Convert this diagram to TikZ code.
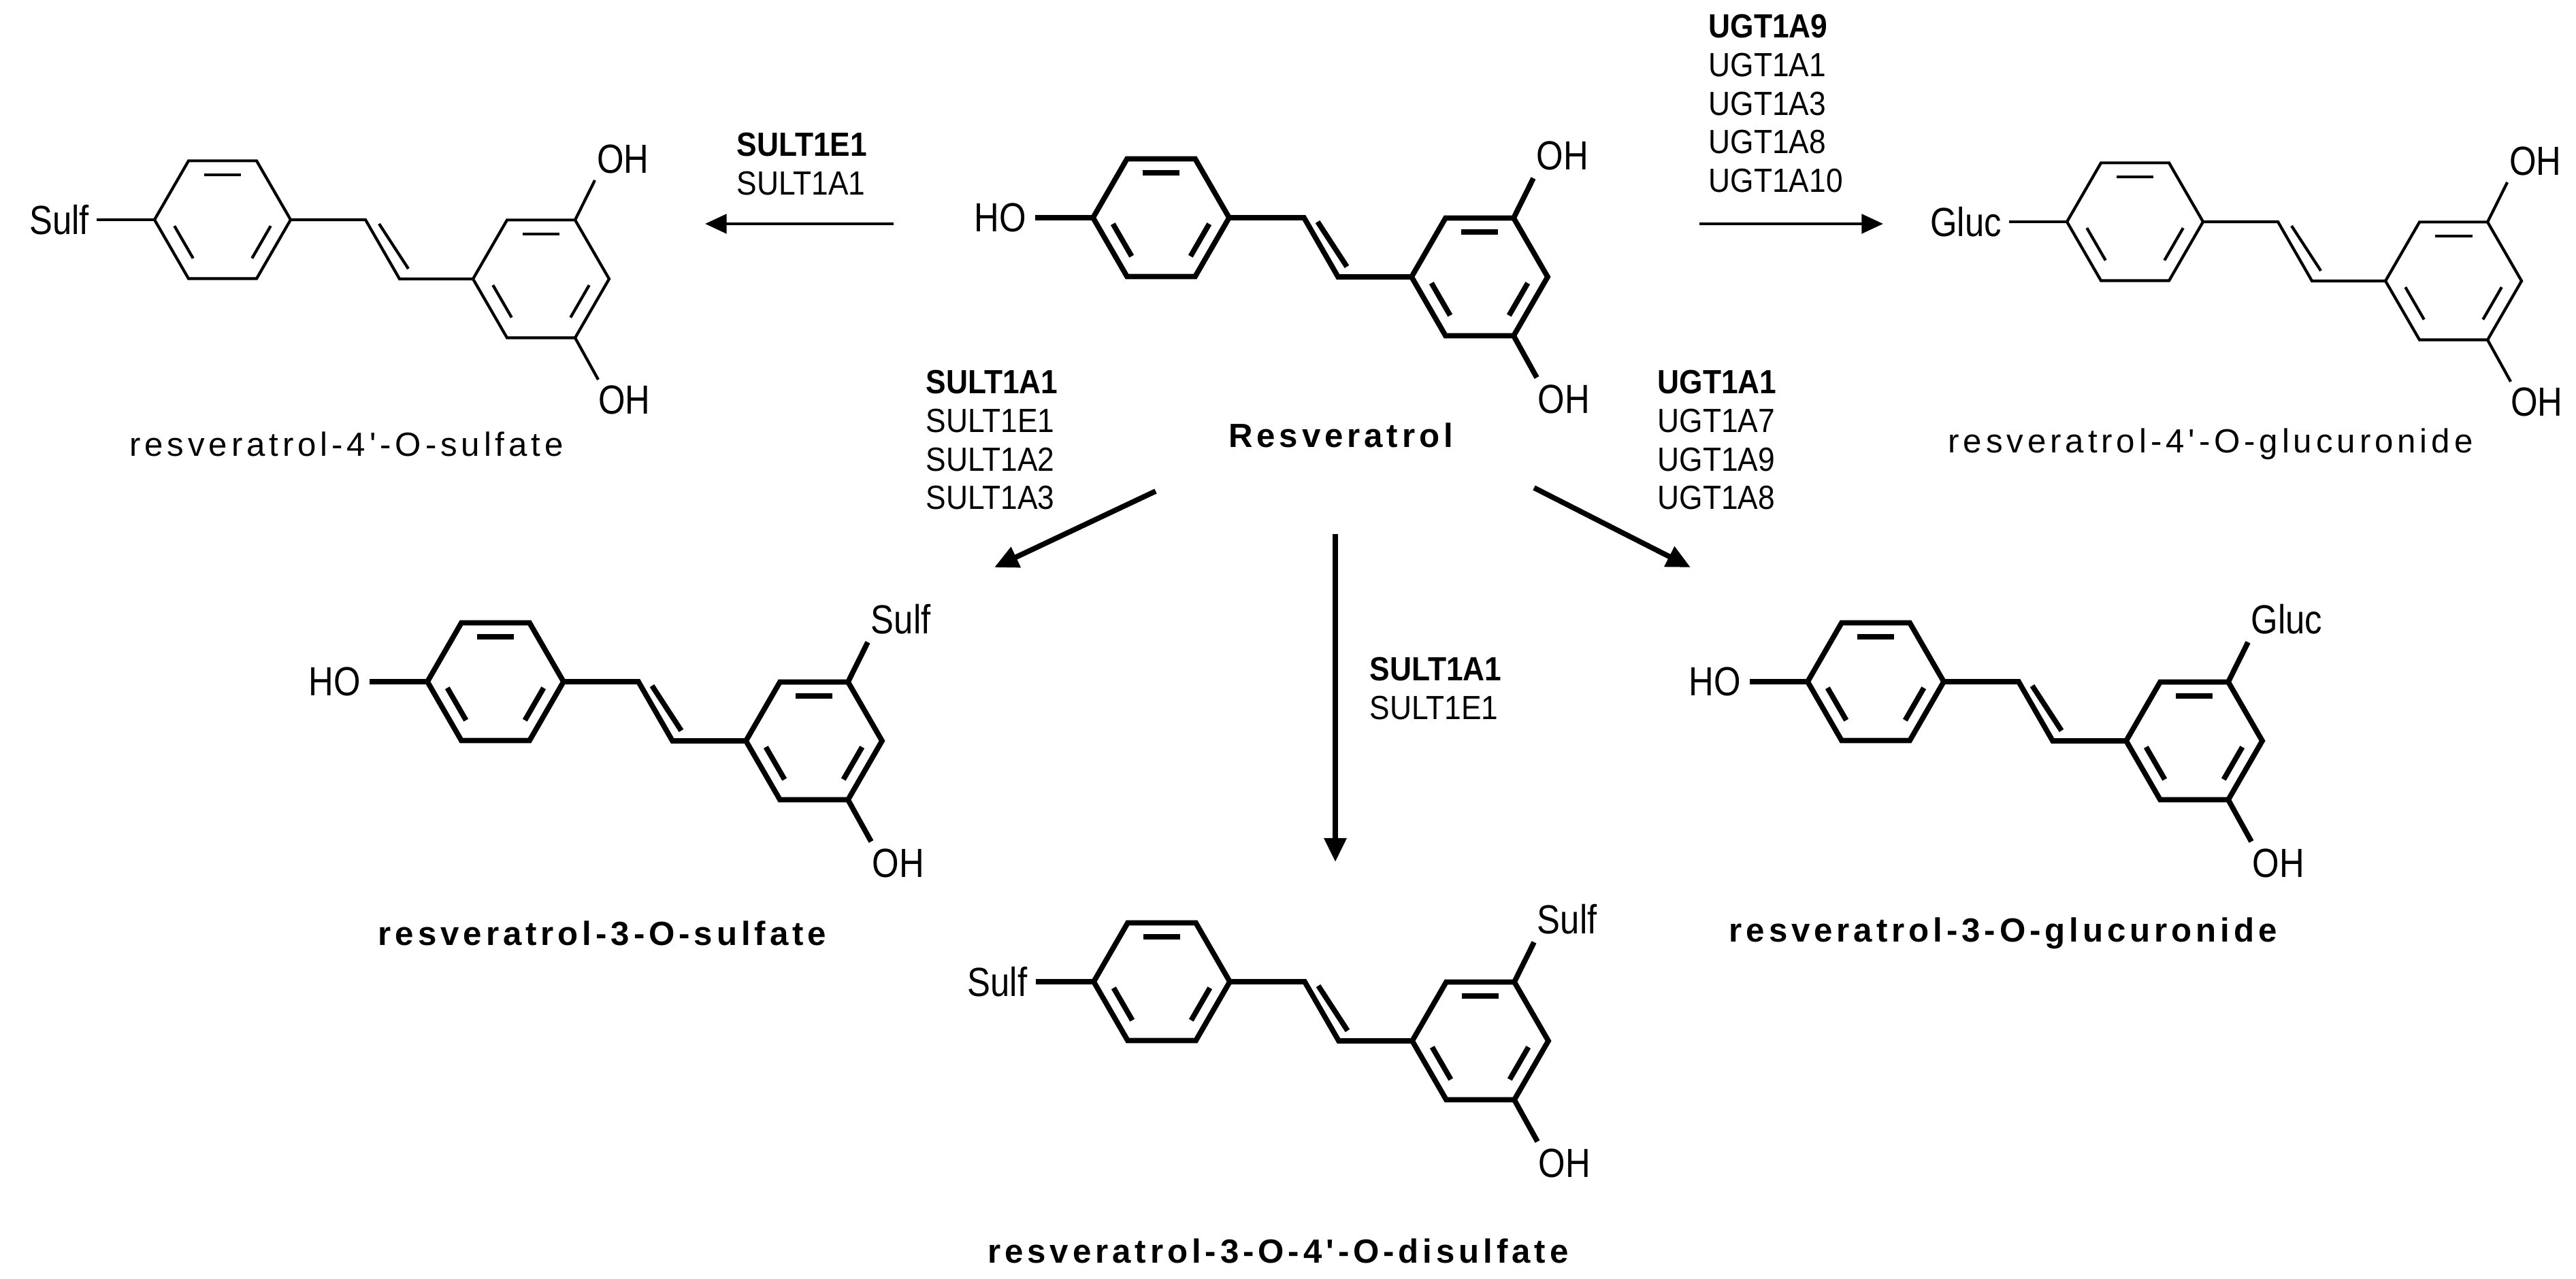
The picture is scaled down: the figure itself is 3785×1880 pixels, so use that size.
\documentclass[tikz,border=0pt]{standalone}
\usepackage{fontspec}
\setmainfont{Liberation Sans}
\newfontfamily\capfont[LetterSpace=12]{Liberation Sans}
\newfontfamily\atomfont[FakeStretch=0.85]{Liberation Sans}
\newfontfamily\enzfont[FakeStretch=0.9]{Liberation Sans}
\usetikzlibrary{calc,arrows.meta}
\tikzset{
  atom/.style={inner sep=0pt,font=\atomfont\fontsize{17pt}{19pt}\selectfont},
  enz/.style={inner sep=0pt,anchor=north west,align=left,font=\enzfont\fontsize{14pt}{16.2pt}\selectfont},
  captext/.style={inner sep=0pt,font=\capfont\fontsize{14pt}{16pt}\selectfont},
  boldcap/.style={inner sep=0pt,font=\capfont\bfseries\fontsize{14pt}{16pt}\selectfont},
  thinarrow/.style={line width=1.3pt,-{Triangle[length=9pt,width=8pt]}},
  thickarrow/.style={line width=2.2pt,-{Triangle[length=10pt,width=9pt]}},
}
\newcommand\stilbene[7]{%
\begin{scope}[shift={(#2,#3)},line width=#4,line join=miter]
  \coordinate (#1c1) at (0,0);
  \coordinate (#1L1) at (-100,0);
  \coordinate (#1TL1) at (-50,-86.6);
  \coordinate (#1TR1) at (50,-86.6);
  \coordinate (#1R1) at (100,0);
  \coordinate (#1BR1) at (50,86.6);
  \coordinate (#1BL1) at (-50,86.6);
  \coordinate (#1V1) at (210,0);
  \coordinate (#1V2) at (260,87);
  \coordinate (#1c2) at (468,87);
  \coordinate (#1L2) at (368,87);
  \coordinate (#1TL2) at (418,0.4);
  \coordinate (#1TR2) at (518,0.4);
  \coordinate (#1R2) at (568,87);
  \coordinate (#1BR2) at (518,173.6);
  \coordinate (#1BL2) at (418,173.6);
  \draw (#1L1)--(#1TL1)--(#1TR1)--(#1R1)--(#1BR1)--(#1BL1)--cycle;
  \draw (#1L2)--(#1TL2)--(#1TR2)--(#1R2)--(#1BR2)--(#1BL2)--cycle;
  \draw (#1R1)--(#1V1)--(#1V2)--(#1L2);
  \draw ($(#1V1)+(20,6)$)--($(#1V2)+(13,-15)$);
  \foreach \a/\b in {TL1/TR1,L1/BL1,R1/BR1}{
    \draw[shorten <=3pt,shorten >=3pt] ($(#1c1)!0.76!(#1\a)$)--($(#1c1)!0.76!(#1\b)$);}
  \foreach \a/\b in {TL2/TR2,L2/BL2,R2/BR2}{
    \draw[shorten <=3pt,shorten >=3pt] ($(#1c2)!0.76!(#1\a)$)--($(#1c2)!0.76!(#1\b)$);}
  \coordinate (#1pb) at (-185,0);
  \coordinate (#1tb) at (547,-58);
  \coordinate (#1bb) at (552,235);
  \draw (#1L1)--(#1pb);
  \draw (#1TR2)--(#1tb);
  \draw (#1BR2)--(#1bb);
  \node[atom,anchor=east] (#1p) at (-194,0) {#5};
  \node[atom,anchor=south west] (#1t) at (548,-66) {#6};
  \node[atom,anchor=north west] (#1b) at (550,242) {#7};
\end{scope}}
\begin{document}
\begin{tikzpicture}[x=0.01cm,y=-0.01cm]
\useasboundingbox (0,0) rectangle (3785,1880);
\fill[white] (0,0) rectangle (3785,1880);

\stilbene{A}{327}{323}{1.2pt}{Sulf}{OH}{OH}
\stilbene{B}{1706}{320}{2.2pt}{HO}{OH}{OH}
\stilbene{C}{3137}{326}{1.2pt}{Gluc}{OH}{OH}
\stilbene{D}{728}{1002}{2.2pt}{HO}{Sulf}{OH}
\stilbene{E}{2756}{1002}{2.2pt}{HO}{Gluc}{OH}
\stilbene{F}{1707}{1443}{2.2pt}{Sulf}{Sulf}{OH}

% captions
\node[captext] (capA) at (509,653) {resveratrol-4'-O-sulfate};
\node[captext] (capC) at (3248,653) {resveratrol-4'-O-glucuronide};
\node[boldcap] (capB) at (1970,640) {Resveratrol};
\node[boldcap] (capD) at (885,1372) {resveratrol-3-O-sulfate};
\node[boldcap] (capE) at (2943,1372) {resveratrol-3-O-glucuronide};
\node[boldcap] (capF) at (1878,1839) {resveratrol-3-O-4'-O-disulfate};

% enzymes
\node[enz] (enzA) at (1082,194) {\textbf{SULT1E1}\\SULT1A1};
\node[enz] (enzC) at (2510,20) {\textbf{UGT1A9}\\UGT1A1\\UGT1A3\\UGT1A8\\UGT1A10};
\node[enz] (enzD) at (1360,543) {\textbf{SULT1A1}\\SULT1E1\\SULT1A2\\SULT1A3};
\node[enz] (enzE) at (2435,543) {\textbf{UGT1A1}\\UGT1A7\\UGT1A9\\UGT1A8};
\node[enz] (enzF) at (2012,965) {\textbf{SULT1A1}\\SULT1E1};

% arrows
\coordinate (aAs) at (1313,329); \coordinate (aAe) at (1036,329);
\coordinate (aCs) at (2497,329); \coordinate (aCe) at (2767,329);
\coordinate (aDs) at (1698,722); \coordinate (aDe) at (1461,834);
\coordinate (aEs) at (2254,717); \coordinate (aEe) at (2484,834);
\coordinate (aFs) at (1962,785); \coordinate (aFe) at (1962,1267);
\draw[thinarrow] (aAs)--(aAe);
\draw[thinarrow] (aCs)--(aCe);
\draw[thickarrow] (aDs)--(aDe);
\draw[thickarrow] (aEs)--(aEe);
\draw[thickarrow] (aFs)--(aFe);
\end{tikzpicture}
\end{document}
